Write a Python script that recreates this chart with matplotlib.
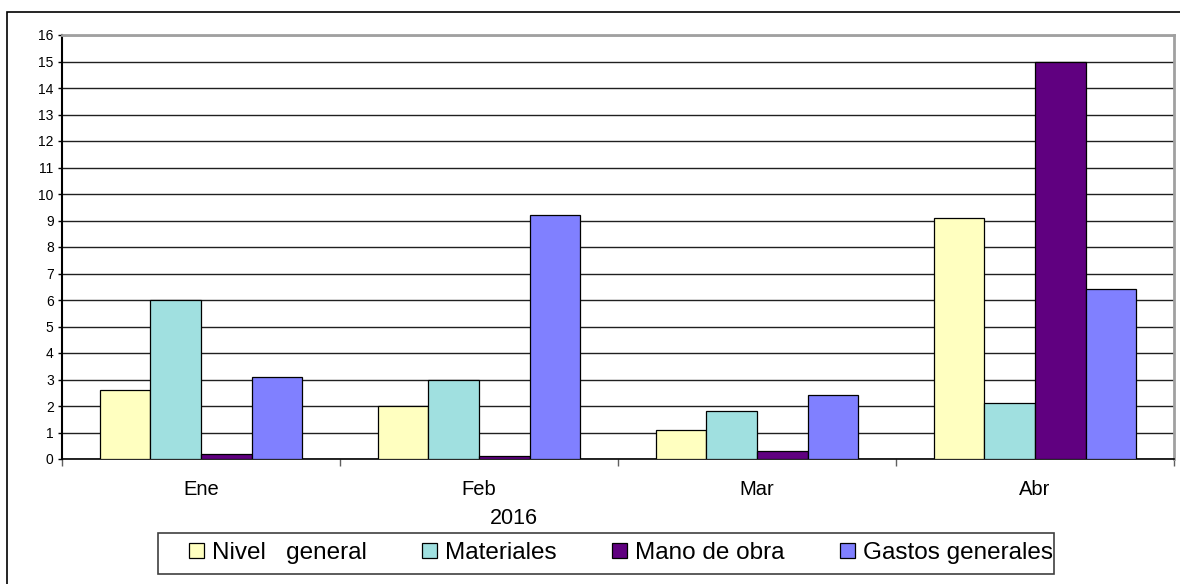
import matplotlib
matplotlib.use("Agg")
import matplotlib.pyplot as plt
import numpy as np
from matplotlib.patches import Rectangle

months = ["Ene", "Feb", "Mar", "Abr"]
series_names = ["Nivel   general", "Materiales", "Mano de obra", "Gastos generales"]
nivel_general = [2.6, 2.0, 1.1, 9.1]
materiales = [6.0, 3.0, 1.8, 2.1]
mano_de_obra = [0.2, 0.1, 0.3, 15.0]
gastos_generales = [3.1, 9.2, 2.4, 6.4]
colors = ["#FFFFC0", "#A0E0E0", "#600080", "#8080FF"]

plt.rcParams["font.family"] = ["Liberation Sans", "DejaVu Sans"]

W, H = 1180, 584
fig = plt.figure(figsize=(W / 100, H / 100), dpi=100)
# outer chart frame
fig.patches.append(Rectangle((7 / W, -0.05), 1.1, 1 - 12 / H + 0.05, transform=fig.transFigure,
                             fill=False, edgecolor="black", linewidth=1.2))

ax = fig.add_axes([62 / W, 1 - 459 / H, 1112 / W, 424 / H])

x = np.arange(len(months))
w = 1 / 5.5
data = [nivel_general, materiales, mano_de_obra, gastos_generales]
for i, (vals, c, name) in enumerate(zip(data, colors, series_names)):
    ax.bar(x + (i - 1.5) * w, vals, width=w, color=c, edgecolor="black", linewidth=0.9,
           label=name, zorder=3)

ax.set_xlim(-0.5, 3.5)
ax.set_ylim(0, 16)
ax.set_yticks(range(0, 17))
ax.tick_params(axis="y", labelsize=10, length=3, width=1, direction="out", pad=3)
ax.yaxis.grid(True, color="#202020", linewidth=1, zorder=0)
ax.set_axisbelow(True)

ax.set_xticks(x)
ax.set_xticklabels(months, fontsize=14.5)
ax.tick_params(axis="x", length=0, pad=15)
ax.set_xticks(np.arange(-0.5, 4.0, 1.0), minor=True)
ax.tick_params(axis="x", which="minor", length=5, width=1, color="#606060")

ax.spines["left"].set_color("black")
ax.spines["left"].set_linewidth(1.5)
ax.spines["bottom"].set_color("black")
ax.spines["bottom"].set_linewidth(1.2)
ax.spines["top"].set_color("#a0a0a0")
ax.spines["top"].set_linewidth(2)
ax.spines["right"].set_color("#a0a0a0")
ax.spines["right"].set_linewidth(2)

fig.text(514 / W, 1 - 519 / H, "2016", fontsize=15.5, ha="center", va="center")

# legend box drawn separately, entries placed inside
fig.patches.append(Rectangle((158 / W, 1 - 574 / H), (1054 - 158) / W, 41 / H,
                             transform=fig.transFigure, fill=False, edgecolor="#404040",
                             linewidth=1.2))
leg = fig.legend(loc="center", bbox_to_anchor=(621 / W, 1 - 553 / H), ncol=4,
                 fontsize=17.5, frameon=False,
                 handlelength=0.6, handleheight=0.6, handletextpad=0.33, columnspacing=2.3,
                 borderpad=0.0)

fig.savefig("out.png", dpi=100)
